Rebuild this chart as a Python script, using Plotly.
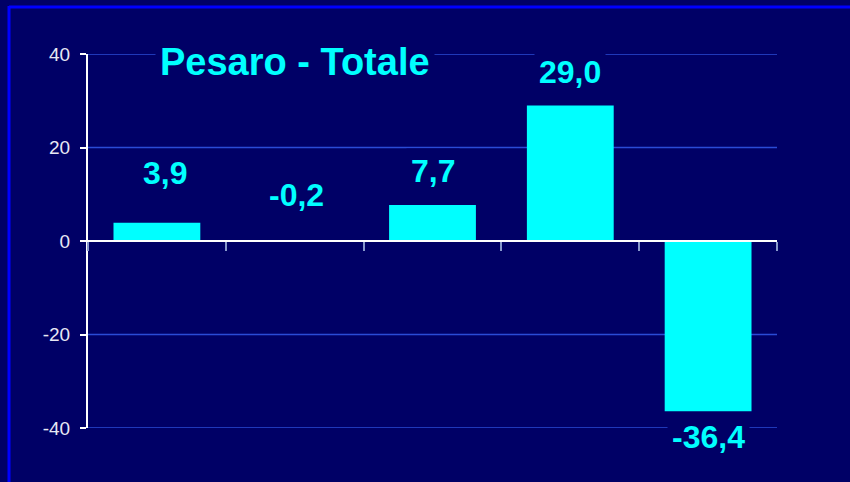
import plotly.graph_objects as go

categories = ["A", "B", "C", "D", "E"]
values = [3.9, -0.2, 7.7, 29.0, -36.4]
value_labels = ["3,9", "-0,2", "7,7", "29,0", "-36,4"]
title_text = "Pesaro - Totale"
y_ticks = [-40, -20, 0, 20, 40]

BG = "#000066"
CYAN = "#00FFFF"
GRID = "#2A4BD6"
FONT = "Liberation Sans, Arial, sans-serif"

W, H = 850, 482
L, R, T, B = 88, 73, 54, 54

# label offsets in pixels (style only)
label_shift = [50, 47, 34, 33, -26]
label_xshift = [8, 2, 0, 0, 0]

fig = go.Figure()
fig.add_trace(go.Bar(
    x=categories, y=values,
    marker=dict(color=CYAN, line=dict(width=0)),
    hoverinfo="skip",
))

annotations = []
for c, v, t, s, xs in zip(categories, values, value_labels, label_shift, label_xshift):
    annotations.append(dict(
        x=c, y=v, xref="x", yref="y", text="<b>%s</b>" % t,
        showarrow=False, yshift=s, xshift=xs, yanchor="middle",
        font=dict(family=FONT, size=32, color=CYAN),
        bgcolor=BG, borderpad=4,
    ))
annotations.append(dict(
    x=categories[1], y=y_ticks[-1], xref="x", yref="y", text="<b>%s</b>" % title_text,
    showarrow=False, yshift=-8, yanchor="middle",
    font=dict(family=FONT, size=38, color=CYAN),
    bgcolor=BG, borderpad=4,
))

pw = W - L - R
ph = H - T - B
shapes = [
    dict(type="line", xref="paper", yref="paper",
         x0=(9 - L) / pw, x1=(9 - L) / pw, y0=(H - 6 - B) / ph, y1=(-20 - B) / ph,
         line=dict(color="#0000FF", width=3)),
    dict(type="line", xref="paper", yref="paper",
         x0=(9 - L) / pw, x1=(W + 20 - L) / pw, y0=(H - 7 - B) / ph, y1=(H - 7 - B) / ph,
         line=dict(color="#0000FF", width=3)),
]
# horizontal gridlines (drawn below the bars)
for v in y_ticks:
    if v == 0:
        continue
    shapes.append(dict(type="line", xref="paper", yref="y", x0=0, x1=1, y0=v, y1=v,
                       layer="below", line=dict(color=GRID, width=1.5)))

fig.update_layout(
    width=W, height=H,
    margin=dict(l=L, r=R, t=T, b=B),
    paper_bgcolor=BG, plot_bgcolor=BG,
    bargap=0.37,
    showlegend=False,
    annotations=annotations,
    shapes=shapes,
    xaxis=dict(
        type="category",
        showticklabels=False,
        showgrid=False,
        zeroline=False,
        showline=True, linecolor="#FFFFFF", linewidth=1.5,
        ticks="outside", tickson="boundaries", ticklen=9, tickcolor="#8899CC", tickwidth=1.5,
        anchor="free", position=0.5,
    ),
    yaxis=dict(
        range=[-40, 40],
        tickvals=y_ticks,
        ticktext=[str(v) for v in y_ticks],
        showgrid=False,
        zeroline=False,
        showline=True, linecolor="#FFFFFF", linewidth=2,
        ticks="outside", ticklen=6, tickcolor="#FFFFFF", tickwidth=2,
        ticklabelstandoff=6,
        tickfont=dict(family=FONT, size=19, color="#E8E8F4"),
    ),
)

fig.write_html(
    "out.html",
    config={"displayModeBar": False},
    post_script="document.body.style.margin='0';document.body.style.background='#000066';",
)
